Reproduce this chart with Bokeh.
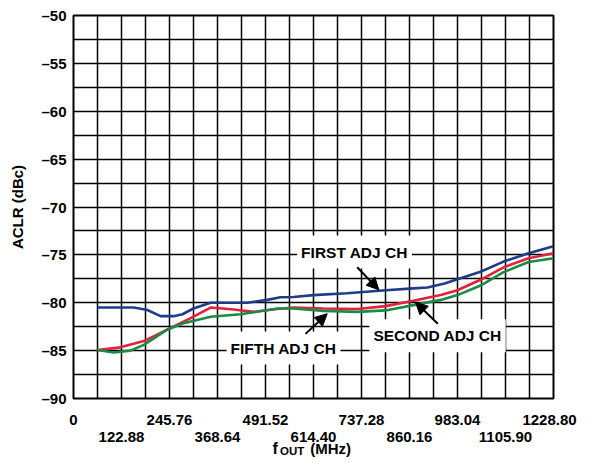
from bokeh.plotting import figure
from bokeh.models import (Range1d, FixedTicker, Label, Arrow, NormalHead)
from bokeh.layouts import column
from bokeh.core.properties import value
from bokeh.embed import file_html
from bokeh.resources import INLINE

# ---- data ----
first_f = [61.44, 154, 189, 223, 256, 279, 307, 351, 445, 496, 530, 563, 614,
           700, 800, 870, 906, 950, 983, 1042, 1101, 1165, 1228.8]
first_v = [-80.5, -80.5, -80.76, -81.4, -81.4, -81.2, -80.6, -80.0, -80.0, -79.7,
           -79.43, -79.4, -79.2, -79.0, -78.7, -78.5, -78.4, -78.0, -77.55, -76.76,
           -75.7, -74.84, -74.1]

second_f = [61.44, 120, 180, 240, 300, 351, 410, 461, 522, 563, 640, 727, 799,
            870, 940, 983, 1042, 1101, 1165, 1228.8]
second_v = [-84.94, -84.66, -84.0, -82.8, -81.6, -80.5, -80.7, -80.95, -80.65,
            -80.5, -80.6, -80.65, -80.35, -79.8, -79.2, -78.7, -77.6, -76.3,
            -75.36, -74.84]

fifth_f = [61.44, 103, 146, 180, 240, 282, 351, 428, 461, 522, 563, 640, 727,
           799, 870, 940, 983, 1042, 1101, 1165, 1228.8]
fifth_v = [-84.94, -85.2, -85.0, -84.4, -82.8, -82.15, -81.46, -81.2, -81.0,
           -80.6, -80.6, -80.85, -80.95, -80.8, -80.25, -79.7, -79.2, -78.2,
           -76.8, -75.75, -75.36]

x_top_ticks = [0, 245.76, 491.52, 737.28, 983.04, 1228.80]
x_top_labels = ["0", "245.76", "491.52", "737.28", "983.04", "1228.80"]
x_bot_ticks = [122.88, 368.64, 614.40, 860.16, 1105.92]
x_bot_labels = ["122.88", "368.64", "614.40", "860.16", "1105.90"]
y_ticks = [-90, -85, -80, -75, -70, -65, -60, -55, -50]
y_labels = ["\u201390", "\u201385", "\u201380", "\u201375", "\u201370",
            "\u201365", "\u201360", "\u201355", "\u201350"]

FONT = "Liberation Sans"
BLUE = "#1f3c8a"
RED = "#e3213b"
GREEN = "#1a8a47"
TICK_SIZE = "15px"

W = 577
LEFT, RIGHT, TOP = 73, 24, 15
FRAME_H = 383
MAIN_H = TOP + FRAME_H + 8
LOW_H = 458 - MAIN_H

X0, X1 = 0, 1228.8

p = figure(width=W, height=MAIN_H, output_backend="svg", toolbar_location=None,
           x_range=Range1d(X0, X1), y_range=Range1d(-90, -50),
           x_axis_location=None,
           min_border_left=LEFT, min_border_right=RIGHT, min_border_top=TOP,
           min_border_bottom=MAIN_H - TOP - FRAME_H)
p.frame_align = False
p.background_fill_color = "white"
p.border_fill_color = "white"
p.outline_line_color = "black"
p.outline_line_width = 2
p.outline_line_alpha = 1

# grid
p.xgrid.ticker = FixedTicker(ticks=[i * 61.44 for i in range(21)])
p.ygrid.ticker = FixedTicker(ticks=[-90 + i * 2.5 for i in range(17)])
for g in (p.xgrid, p.ygrid):
    g.grid_line_color = "black"
    g.grid_line_alpha = 1
    g.grid_line_width = 1.5

# y axis
ya = p.yaxis[0]
ya.axis_line_color = None
ya.major_tick_line_color = None
ya.minor_tick_line_color = None
ya.major_tick_out = 0
ya.major_tick_in = 0
ya.major_label_text_font = FONT
ya.major_label_text_font_style = "bold"
ya.major_label_text_font_size = TICK_SIZE
ya.major_label_text_color = "black"
ya.ticker = FixedTicker(ticks=y_ticks)
ya.major_label_overrides = {t: l for t, l in zip(y_ticks, y_labels)}
ya.major_label_standoff = 7
ya.axis_label = "ACLR (dBc)"
ya.axis_label_text_font = FONT
ya.axis_label_text_font_style = "bold"
ya.axis_label_text_font_size = "15px"
ya.axis_label_text_color = "black"
ya.axis_label_standoff = 12

# curves
p.line(first_f, first_v, line_color=BLUE, line_width=2.6)
p.line(second_f, second_v, line_color=RED, line_width=2.6)
p.line(fifth_f, fifth_v, line_color=GREEN, line_width=2.6)

# annotations
def ann(x, y, text):
    p.add_layout(Label(x=x, y=y, text=text, text_align="center",
                       text_baseline="middle", text_font=FONT,
                       text_font_style="bold", text_font_size="15.5px",
                       text_color="black", background_fill_color="white",
                       padding=(4, 8)))

ann(719.4, -74.70, "FIRST ADJ CH")
ann(932.0, -83.45, "SECOND ADJ CH")
ann(537.6, -84.73, "FIFTH ADJ CH")

def arrow(x0, y0, x1, y1):
    p.add_layout(Arrow(end=NormalHead(size=12, fill_color="black",
                                      line_color="black", line_width=1),
                       x_start=x0, y_start=y0, x_end=x1, y_end=y1,
                       line_color="black", line_width=2))

arrow(726.3, -76.29, 781.6, -78.65)
arrow(932.6, -82.2, 875.5, -79.94)
arrow(593.9, -83.25, 649.5, -81.15)

# ---- lower strip: x tick labels (two rows) and the x-axis title ----
px_per_unit = (W - LEFT - RIGHT) / (X1 - X0)
low = figure(width=W, height=LOW_H, output_backend="svg", toolbar_location=None,
             x_range=Range1d(X0 - LEFT / px_per_unit, X1 + RIGHT / px_per_unit),
             y_range=Range1d(LOW_H, 0),
             x_axis_location=None, y_axis_location=None, min_border=0)
low.frame_align = False
low.outline_line_color = None
low.xgrid.visible = False
low.ygrid.visible = False
low.background_fill_color = "white"
low.border_fill_color = "white"

# y in this strip = pixels below its top edge
ROW1 = 419.0 - MAIN_H
ROW2 = 436.7 - MAIN_H
TITLE = 447.5 - MAIN_H

low.text(x=x_top_ticks, y=[ROW1] * len(x_top_ticks), text=x_top_labels,
         x_offset=[0, 0, 0, 0, 0, -4],
         text_align="center", text_baseline="alphabetic",
         text_font=value(FONT), text_font_style="bold",
         text_font_size=TICK_SIZE, text_color="black")
low.text(x=x_bot_ticks, y=[ROW2] * len(x_bot_ticks), text=x_bot_labels,
         text_align="center", text_baseline="alphabetic",
         text_font=value(FONT), text_font_style="bold",
         text_font_size=TICK_SIZE, text_color="black")

low.text(x=[509.4], y=[TITLE], text=["f"], text_align="left",
         text_baseline="alphabetic", text_font=value(FONT),
         text_font_style="bold", text_font_size="16px", text_color="black")
low.text(x=[528.6], y=[TITLE + 3], text=["OUT"], text_align="left",
         text_baseline="alphabetic", text_font=value(FONT),
         text_font_style="bold", text_font_size="11.5px", text_color="black")
low.text(x=[606.0], y=[TITLE], text=["(MHz)"], text_align="left",
         text_baseline="alphabetic", text_font=value(FONT),
         text_font_style="bold", text_font_size="15px", text_color="black")

layout = column(p, low, spacing=0)
open("out.html", "w").write(file_html(layout, INLINE))
